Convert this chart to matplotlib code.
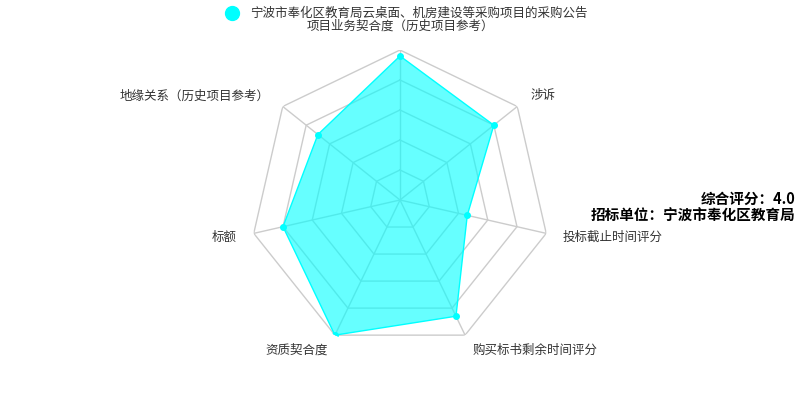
import numpy as np
import matplotlib
matplotlib.use("Agg")
import matplotlib.pyplot as plt
from matplotlib.lines import Line2D

plt.rcParams['font.family'] = ['Noto Sans CJK SC', 'DejaVu Sans']

indicators = ["项目业务契合度（历史项目参考）", "地缘关系（历史项目参考）", "标额", "资质契合度",
              "购买标书剩余时间评分", "投标截止时间评分", "涉诉"]
values = [4.8, 3.5, 4.0, 5.0, 4.3, 2.3, 4.0]
max_value = 5.0
series_name = "宁波市奉化区教育局云桌面、机房建设等采购项目的采购公告"
score_text = "综合评分：4.0"
unit_text = "招标单位：宁波市奉化区教育局"

W, H = 800, 400
fig = plt.figure(figsize=(W / 100, H / 100), dpi=100)
cx, cy, R = 400, 200, 150
ax = fig.add_axes([(cx - R) / W, (cy - R) / H, 2 * R / W, 2 * R / H], projection='polar')
ax.set_theta_offset(np.pi / 2)
ax.set_theta_direction(1)
ax.set_ylim(0, max_value)
ax.axis('off')

n = len(indicators)
theta = np.arange(n) * 2 * np.pi / n
tc = np.append(theta, theta[0])

# grid rings
for k in range(1, 6):
    r = max_value * k / 5
    ax.plot(tc, [r] * (n + 1), color='#cccccc', lw=1, zorder=1)
for t in theta:
    ax.plot([t, t], [0, max_value], color='#cccccc', lw=1, zorder=1)

vc = values + values[:1]
ax.fill(tc, vc, color='#00ffff', alpha=0.6, lw=0, zorder=2)
ax.plot(tc, vc, color='#00ffff', lw=1, zorder=3)
ax.plot(theta, values, 'o', color='#00ffff', ms=4, zorder=4)

# labels
gap = max_value * (1 + 17 / R)
for t, name in zip(theta, indicators):
    sx = -np.sin(t)
    if abs(sx) < 0.05:
        ha = 'center'
    elif sx > 0:
        ha = 'left'
    else:
        ha = 'right'
    va = 'bottom' if abs(t) < 1e-6 else 'center'
    ax.text(t, gap, name, ha=ha, va=va, fontsize=9, color='#333333', zorder=5)

# legend
fig.add_artist(Line2D([232 / W], [1 - 13 / H], marker='o', color='#00ffff', ms=10,
                      transform=fig.transFigure, ls=''))
fig.text(250 / W, 1 - 13 / H, series_name, ha='left', va='center', fontsize=9, color='#333333')

fig.text(795 / W, 1 - 199 / H, score_text, ha='right', va='center', fontsize=10.5,
         fontweight='bold', color='#000000', linespacing=1.0)
fig.text(795 / W, 1 - 216 / H, unit_text, ha='right', va='center', fontsize=10.5,
         fontweight='bold', color='#000000', linespacing=1.0)

fig.savefig('out.png', dpi=100, facecolor='white')
